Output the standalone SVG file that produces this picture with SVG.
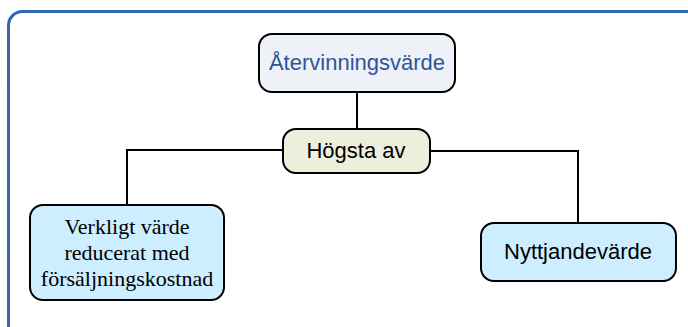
<svg xmlns="http://www.w3.org/2000/svg" width="688" height="327" viewBox="0 0 688 327">
<style>
.node{stroke:#000;stroke-width:2}
.sans{font-family:"Liberation Sans",Arial,sans-serif;font-size:22px;text-anchor:middle}
.serif{font-family:"Liberation Serif","Times New Roman",serif;font-size:22px;text-anchor:middle}
.conn{fill:none;stroke:#000;stroke-width:2}
</style>
<rect x="0" y="0" width="688" height="327" fill="#fff"/>
<rect x="8.5" y="11.5" width="700" height="330" rx="14" fill="none" stroke="#3366aa" stroke-width="3"/>
<g id="connectors">
<path class="conn" d="M357 92 V128"/>
<path class="conn" d="M282 150 H127 V205"/>
<path class="conn" d="M430 151 H578 V223"/>
</g>
<g id="aterv">
<rect class="node" x="259" y="34" width="196" height="58" rx="13" fill="#eef1f7"/>
<text class="sans" x="357" y="70" fill="#2e5597">Återvinningsvärde</text>
</g>
<g id="hogsta">
<rect class="node" x="283" y="129" width="147" height="44" rx="13" fill="#ebefdc"/>
<text class="sans" x="356" y="158" fill="#000">Högsta av</text>
</g>
<g id="verkligt">
<rect class="node" x="30" y="205" width="194" height="95" rx="13" fill="#cdeeff"/>
<text class="serif" x="127" y="234">Verkligt värde</text>
<text class="serif" x="127" y="260">reducerat med</text>
<text class="serif" x="127" y="286">försäljningskostnad</text>
</g>
<g id="nyttjande">
<rect class="node" x="481" y="223" width="195" height="58" rx="13" fill="#cdeeff"/>
<text class="sans" x="578" y="259">Nyttjandevärde</text>
</g>
</svg>
